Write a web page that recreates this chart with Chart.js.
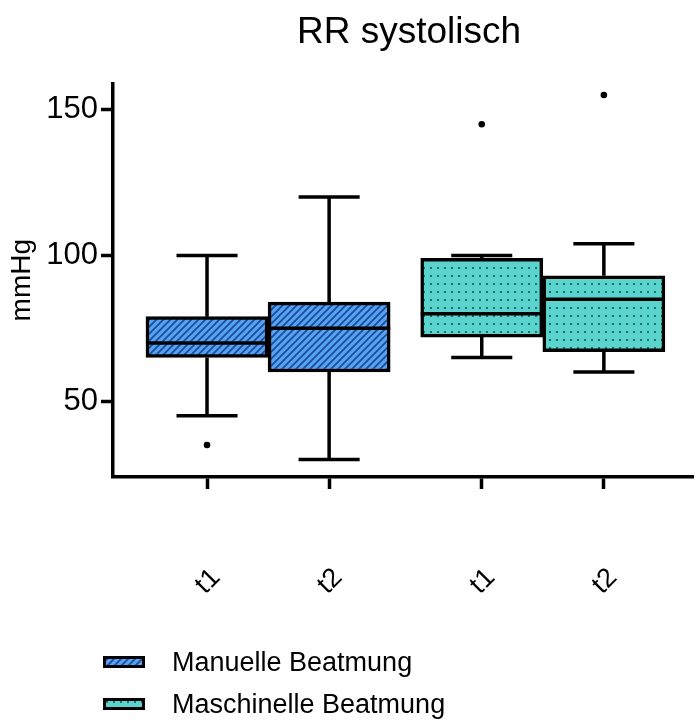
<!DOCTYPE html>
<html><head><meta charset="utf-8">
<script src="https://cdn.jsdelivr.net/npm/chart.js@4.4.1/dist/chart.umd.min.js"></script>
<style>
html,body{margin:0;padding:0;background:#fff;}
#wrap{position:relative;width:695px;height:720px;}
#legend{position:absolute;left:103px;top:641px;font-family:"Liberation Sans",Arial,sans-serif;font-size:27px;color:#000;}
.item{display:flex;align-items:center;height:42px;white-space:nowrap;}
.item canvas{margin-right:27px;display:block;}
</style></head><body>
<div id="wrap"><canvas id="c" width="695" height="720"></canvas><div id="legend"></div></div>
<script>
// ---- data ----
const chartTitle = 'RR systolisch';
const yAxisTitle = 'mmHg';
const seriesNames = ['Manuelle Beatmung', 'Maschinelle Beatmung'];
const timeLabels = ['t1', 't2'];
const yTickValues = [50, 100, 150];

const manuelleMin = [45, 30];
const manuelleQ1 = [65, 60];
const manuelleMedian = [70, 75];
const manuelleQ3 = [79, 84];
const manuelleMax = [100, 120];
const manuelleOutliers = [[35], []];

const maschinelleMin = [65, 60];
const maschinelleQ1 = [72, 67];
const maschinelleMedian = [80, 85];
const maschinelleQ3 = [99, 93];
const maschinelleMax = [100, 104];
const maschinelleOutliers = [[145], [155]];

// ---- build ----
const FONT = '"Liberation Sans", Arial, sans-serif';
const LW = 3.5;
const groupGap = 0.25;
const stats = [
  {min: manuelleMin, q1: manuelleQ1, med: manuelleMedian, q3: manuelleQ3, max: manuelleMax, out: manuelleOutliers},
  {min: maschinelleMin, q1: maschinelleQ1, med: maschinelleMedian, q3: maschinelleQ3, max: maschinelleMax, out: maschinelleOutliers}
];
function posOf(g, i) { return 1 + g * (timeLabels.length + groupGap) + i; }
const tickPositions = [];
const tickTexts = [];
seriesNames.forEach((s, g) => timeLabels.forEach((t, i) => { tickPositions.push(posOf(g, i)); tickTexts.push(t); }));

function stripePattern(ctxRef) {
  const c = document.createElement('canvas'); c.width = 7; c.height = 7;
  const p = c.getContext('2d');
  p.fillStyle = '#58a2f4'; p.fillRect(0, 0, 7, 7);
  p.strokeStyle = '#1a4e9a'; p.lineWidth = 1.8;
  p.beginPath();
  p.moveTo(-1, 8); p.lineTo(8, -1);
  p.moveTo(-4.5, 4.5); p.lineTo(4.5, -4.5);
  p.moveTo(2.5, 11.5); p.lineTo(11.5, 2.5);
  p.stroke();
  return ctxRef.createPattern(c, 'repeat');
}
function dotPattern(ctxRef) {
  const c = document.createElement('canvas'); c.width = 7; c.height = 8;
  const p = c.getContext('2d');
  p.fillStyle = '#5cd4ce'; p.fillRect(0, 0, 7, 8);
  p.fillStyle = '#1b6f6e'; p.fillRect(3, 3, 2, 2);
  return ctxRef.createPattern(c, 'repeat');
}

const canvas = document.getElementById('c');
const ctx = canvas.getContext('2d');
const fills = [stripePattern(ctx), dotPattern(ctx)];

const datasets = seriesNames.map((name, g) => ({
  label: name,
  data: timeLabels.map((t, i) => ({x: posOf(g, i), y: [stats[g].q1[i], stats[g].q3[i]]})),
  backgroundColor: fills[g],
  borderColor: '#000',
  borderWidth: LW,
  borderSkipped: false,
  barPercentage: 1,
  categoryPercentage: 1
}));

const boxExtras = {
  id: 'boxExtras',
  afterLayout(chart) {
    const t = chart.titleBlock;
    if (t) { t.left += 6; t.right += 6; }
  },
  beforeDatasetsDraw(chart) {
    const {ctx, scales: {y}} = chart;
    ctx.save();
    ctx.strokeStyle = '#000'; ctx.lineWidth = LW; ctx.lineCap = 'butt';
    chart.data.datasets.forEach((ds, d) => {
      const meta = chart.getDatasetMeta(d);
      const st = stats[d];
      meta.data.forEach((bar, i) => {
        const cx = bar.x, cap = bar.width / 4;
        const yMin = y.getPixelForValue(st.min[i]), yMax = y.getPixelForValue(st.max[i]);
        const yQ1 = y.getPixelForValue(st.q1[i]), yQ3 = y.getPixelForValue(st.q3[i]);
        ctx.beginPath();
        ctx.moveTo(cx, yQ3); ctx.lineTo(cx, yMax);
        ctx.moveTo(cx - cap, yMax); ctx.lineTo(cx + cap, yMax);
        ctx.moveTo(cx, yQ1); ctx.lineTo(cx, yMin);
        ctx.moveTo(cx - cap, yMin); ctx.lineTo(cx + cap, yMin);
        ctx.stroke();
      });
    });
    ctx.restore();
  },
  afterDatasetsDraw(chart) {
    const {ctx, scales: {y}} = chart;
    ctx.save();
    ctx.strokeStyle = '#000'; ctx.fillStyle = '#000'; ctx.lineWidth = LW;
    chart.data.datasets.forEach((ds, d) => {
      const meta = chart.getDatasetMeta(d);
      const st = stats[d];
      meta.data.forEach((bar, i) => {
        const half = bar.width / 2;
        const yMed = y.getPixelForValue(st.med[i]);
        ctx.beginPath();
        ctx.moveTo(bar.x - half, yMed); ctx.lineTo(bar.x + half, yMed);
        ctx.stroke();
        st.out[i].forEach(v => {
          ctx.beginPath();
          ctx.arc(bar.x, y.getPixelForValue(v), 3.3, 0, Math.PI * 2);
          ctx.fill();
        });
      });
    });
    ctx.restore();
  }
};

new Chart(ctx, {
  type: 'bar',
  data: {datasets},
  plugins: [boxExtras],
  options: {
    responsive: false,
    animation: false,
    grouped: false,
    layout: {padding: {right: 2}},
    plugins: {
      legend: {display: false},
      tooltip: {enabled: false},
      title: {
        display: true, text: chartTitle, color: '#000', fullSize: false,
        font: {family: FONT, size: 37, weight: 'normal'},
        padding: {top: 11, bottom: 28}
      }
    },
    scales: {
      x: {
        type: 'linear', min: 0.23, max: 4.98, offset: false,
        afterBuildTicks: s => { s.ticks = tickPositions.map(v => ({value: v})); },
        afterFit: s => { s.height = 243; s.paddingLeft = 0; s.paddingRight = 0; },
        ticks: {
          callback: (v, i) => tickTexts[i],
          autoSkip: false, minRotation: 45, maxRotation: 45,
          font: {family: FONT, size: 27}, color: '#000', padding: 73, labelOffset: 9
        },
        grid: {drawOnChartArea: false, drawTicks: true, tickLength: 12, tickWidth: LW, tickColor: '#000', offset: false},
        border: {display: true, color: '#000', width: LW}
      },
      y: {
        min: 24, max: 159,
        afterBuildTicks: s => { s.ticks = yTickValues.map(v => ({value: v})); },
        afterFit: s => { s.width = 113; },
        ticks: {font: {family: FONT, size: 31}, color: '#000', padding: 3},
        grid: {drawOnChartArea: false, drawTicks: true, tickLength: 12, tickWidth: LW, tickColor: '#000'},
        border: {display: true, color: '#000', width: LW},
        title: {display: true, text: yAxisTitle, color: '#000', font: {family: FONT, size: 28}, padding: {top: 5, bottom: 0}}
      }
    }
  }
});

// HTML legend
const legend = document.getElementById('legend');
seriesNames.forEach((name, g) => {
  const item = document.createElement('div'); item.className = 'item';
  const sw = document.createElement('canvas'); sw.width = 42; sw.height = 12;
  const sctx = sw.getContext('2d');
  sctx.fillStyle = g === 0 ? stripePattern(sctx) : dotPattern(sctx);
  sctx.fillRect(0, 0, 42, 12);
  sctx.strokeStyle = '#000'; sctx.lineWidth = 3; sctx.strokeRect(1.5, 1.5, 39, 9);
  const tx = document.createElement('span'); tx.textContent = name;
  item.appendChild(sw); item.appendChild(tx); legend.appendChild(item);
});
</script>
</body></html>
